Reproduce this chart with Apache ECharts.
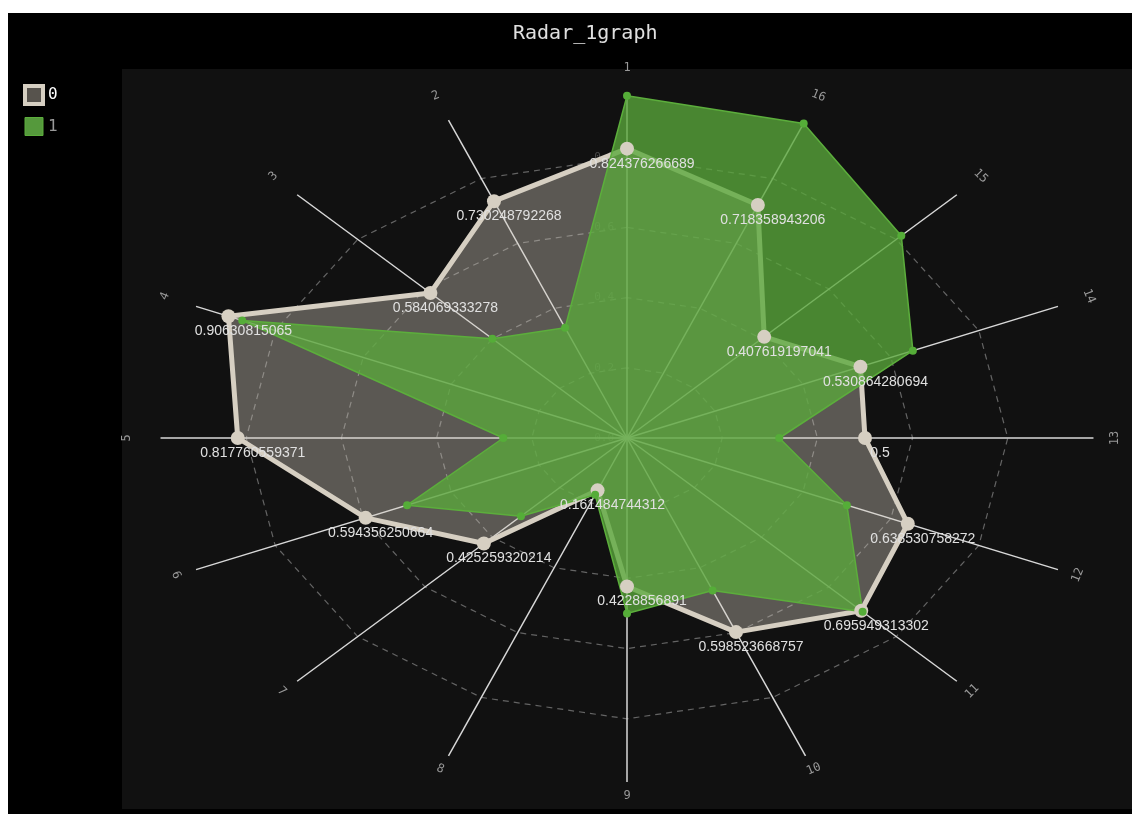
<!DOCTYPE html>
<html>
<head>
<meta charset="utf-8">
<title>Radar_1graph</title>
<script src="https://cdn.jsdelivr.net/npm/echarts@6/dist/echarts.min.js"></script>
<style>
html, body { margin: 0; padding: 0; background: #fff; }
#chart { width: 1132px; height: 814px; }
</style>
</head>
<body>
<div id="chart"></div>
<script>
var categories = ['1', '2', '3', '4', '5', '6', '7', '8', '9', '10', '11', '12', '13', '14', '15', '16'];
var series0Values = [0.824376266689, 0.730248792268, 0.584069333278, 0.90630815065, 0.817760559371, 0.594356250664,
    0.425259320214, 0.161484744312, 0.4228856891, 0.598523668757, 0.695949313302, 0.638530758272,
    0.5, 0.530864280694, 0.407619197041, 0.718358943206];
var series1Values = [0.975, 0.34, 0.40, 0.875, 0.26, 0.50, 0.315, 0.175, 0.50, 0.47, 0.70, 0.50, 0.32, 0.65, 0.815, 0.97];
var ringTicks = [0.0, 0.2, 0.4, 0.6, 0.8];
var ringLabels = ['0.0', '0.2', '0.4', '0.6', '0.8'];
var axisMax = 0.98;

var n = categories.length;

// radar value on spoke i -> point on the (stretched) cartesian plane
function toXY(v, i) {
    var a = i * 2 * Math.PI / n;
    return [-v * Math.sin(a), v * Math.cos(a)];
}

// keep spoke names readable (never upside down)
function labelRotation(i) {
    var a = -i * 2 * Math.PI / n;
    while (a < -Math.PI) a += 2 * Math.PI;
    while (a >= Math.PI) a -= 2 * Math.PI;
    if (a >= Math.PI / 2 - 1e-6) a -= Math.PI;
    if (a < -Math.PI / 2 - 1e-6) a += Math.PI;
    return -a;
}

function polygonPoints(values, api) {
    return values.map(function (v, i) {
        return api.coord(toXY(v, i));
    });
}

var chart = echarts.init(document.getElementById('chart'));

var option = {
    animation: false,
    backgroundColor: '#fff',
    graphic: [
        { type: 'rect', z: -10, silent: true, shape: { x: 8, y: 13, width: 1124, height: 801 }, style: { fill: '#000' } },
        { type: 'rect', z: -9, silent: true, shape: { x: 122, y: 69, width: 1010, height: 740 }, style: { fill: '#111' } }
    ],
    title: {
        text: 'Radar_1graph',
        left: 508,
        top: 19,
        textStyle: { color: '#e0e0e0', fontFamily: 'DejaVu Sans Mono', fontSize: 20, fontWeight: 'normal' }
    },
    legend: {
        orient: 'vertical',
        left: 23,
        top: 84,
        padding: 0,
        itemWidth: 18,
        itemHeight: 18,
        itemGap: 11,
        icon: 'rect',
        selectedMode: false,
        textStyle: { fontFamily: 'DejaVu Sans Mono', fontSize: 16, color: '#999' },
        data: [
            { name: '0', itemStyle: { color: '#57534d', borderColor: '#d6cfc2', borderWidth: 4 }, textStyle: { color: '#fff' } },
            { name: '1', itemStyle: { color: '#55993c', borderColor: '#5cae3c', borderWidth: 1 } }
        ]
    },
    grid: { left: 151, top: 87, width: 952, height: 702 },
    xAxis: { type: 'value', min: -1, max: 1, show: false },
    yAxis: { type: 'value', min: -1, max: 1, show: false },
    series: [
        {
            // dashed rings + their labels
            type: 'custom',
            silent: true,
            z: 1,
            data: ringTicks.map(function () { return [0, 0]; }),
            renderItem: function (params, api) {
                var t = ringTicks[params.dataIndex];
                var children = [];
                if (t > 0) {
                    children.push({
                        type: 'polygon',
                        shape: { points: categories.map(function (c, i) { return api.coord(toXY(t, i)); }) },
                        style: { fill: 'none', stroke: '#646464', lineWidth: 1.2, lineDash: [6, 5] }
                    });
                }
                var p = api.coord([0, t]);
                children.push({
                    type: 'text',
                    x: p[0] - 13,
                    y: p[1],
                    style: {
                        text: ringLabels[params.dataIndex],
                        align: 'right',
                        verticalAlign: 'middle',
                        fill: '#4a4a4a',
                        font: '11px "DejaVu Sans Mono"'
                    }
                });
                return { type: 'group', children: children };
            }
        },
        {
            // spokes + category names
            type: 'custom',
            silent: true,
            z: 1,
            data: categories.map(function () { return [0, 0]; }),
            renderItem: function (params, api) {
                var i = params.dataIndex;
                var c = api.coord([0, 0]);
                var e = api.coord(toXY(axisMax, i));
                var t = api.coord(toXY(1.038, i));
                return {
                    type: 'group',
                    children: [
                        {
                            type: 'line',
                            shape: { x1: c[0], y1: c[1], x2: e[0], y2: e[1] },
                            style: { stroke: '#d8d8d8', lineWidth: 1.5 }
                        },
                        {
                            type: 'text',
                            x: t[0],
                            y: t[1],
                            rotation: labelRotation(i),
                            style: {
                                text: categories[i],
                                align: 'center',
                                verticalAlign: 'bottom',
                                fill: '#999',
                                font: '12px "DejaVu Sans Mono"'
                            }
                        }
                    ]
                };
            }
        },
        {
            name: '0',
            type: 'custom',
            silent: true,
            z: 2,
            itemStyle: { color: '#d6cfc2' },
            data: [[0, 0]],
            renderItem: function (params, api) {
                return {
                    type: 'polygon',
                    shape: { points: polygonPoints(series0Values, api) },
                    style: { fill: 'rgba(214,206,192,0.38)', stroke: '#d6cfc2', lineWidth: 5, lineJoin: 'round' }
                };
            }
        },
        {
            name: '1',
            type: 'custom',
            silent: true,
            z: 3,
            itemStyle: { color: '#5aa83b' },
            data: [[0, 0]],
            renderItem: function (params, api) {
                return {
                    type: 'polygon',
                    shape: { points: polygonPoints(series1Values, api) },
                    style: { fill: 'rgba(90,168,59,0.78)', stroke: '#5cae3c', lineWidth: 1.5, lineJoin: 'round' }
                };
            }
        },
        {
            name: '0',
            type: 'scatter',
            silent: true,
            z: 4,
            symbolSize: 14,
            itemStyle: { color: '#d6cfc2', opacity: 1 },
            data: series0Values.map(function (v, i) { return toXY(v, i); }),
            label: {
                show: true,
                position: 'inside',
                offset: [15, 15],
                align: 'center',
                verticalAlign: 'middle',
                color: '#e0e0e0',
                fontFamily: 'Liberation Sans',
                fontSize: 14,
                formatter: function (p) { return String(series0Values[p.dataIndex]); }
            }
        },
        {
            name: '1',
            type: 'scatter',
            silent: true,
            z: 5,
            symbolSize: 8,
            itemStyle: { color: '#55ad38', opacity: 1 },
            data: series1Values.map(function (v, i) { return toXY(v, i); })
        }
    ]
};

chart.setOption(option);
</script>
</body>
</html>
